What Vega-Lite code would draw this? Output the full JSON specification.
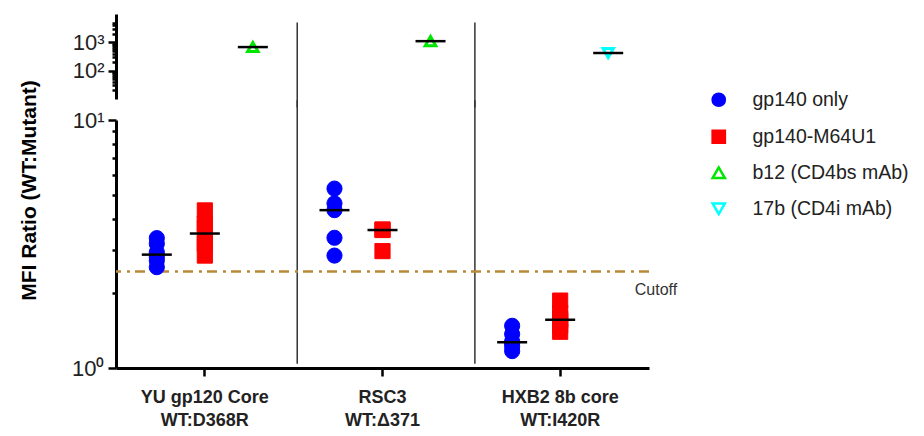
{
  "$schema": "https://vega.github.io/schema/vega-lite/v6.json",
  "background": "white",
  "padding": {"left": 17, "top": 14, "right": 10, "bottom": 5},
  "bounds": "flush",
  "config": {
    "view": {"stroke": null},
    "font": "Liberation Sans",
    "axis": {"grid": false, "domainColor": "black", "tickColor": "black"}
  },
  "datasets": {
    "pts": [
      {"group": "YU gp120 Core\nWT:D368R", "series": "gp140 only", "kind": "gp140 only", "ratio": 3.34},
      {"group": "YU gp120 Core\nWT:D368R", "series": "gp140 only", "kind": "gp140 only", "ratio": 3.17},
      {"group": "YU gp120 Core\nWT:D368R", "series": "gp140 only", "kind": "gp140 only", "ratio": 2.93},
      {"group": "YU gp120 Core\nWT:D368R", "series": "gp140 only", "kind": "gp140 only", "ratio": 2.80},
      {"group": "YU gp120 Core\nWT:D368R", "series": "gp140 only", "kind": "gp140 only", "ratio": 2.71},
      {"group": "YU gp120 Core\nWT:D368R", "series": "gp140 only", "kind": "gp140 only", "ratio": 2.55},
      {"group": "YU gp120 Core\nWT:D368R", "series": "gp140-M64U1", "kind": "gp140-M64U1", "ratio": 4.32},
      {"group": "YU gp120 Core\nWT:D368R", "series": "gp140-M64U1", "kind": "gp140-M64U1", "ratio": 3.82},
      {"group": "YU gp120 Core\nWT:D368R", "series": "gp140-M64U1", "kind": "gp140-M64U1", "ratio": 3.70},
      {"group": "YU gp120 Core\nWT:D368R", "series": "gp140-M64U1", "kind": "gp140-M64U1", "ratio": 3.27},
      {"group": "YU gp120 Core\nWT:D368R", "series": "gp140-M64U1", "kind": "gp140-M64U1", "ratio": 3.17},
      {"group": "YU gp120 Core\nWT:D368R", "series": "gp140-M64U1", "kind": "gp140-M64U1", "ratio": 2.84},
      {"group": "RSC3\nWT:Δ371", "series": "gp140 only", "kind": "gp140 only", "ratio": 5.29},
      {"group": "RSC3\nWT:Δ371", "series": "gp140 only", "kind": "gp140 only", "ratio": 4.61},
      {"group": "RSC3\nWT:Δ371", "series": "gp140 only", "kind": "gp140 only", "ratio": 4.33},
      {"group": "RSC3\nWT:Δ371", "series": "gp140 only", "kind": "gp140 only", "ratio": 3.35},
      {"group": "RSC3\nWT:Δ371", "series": "gp140 only", "kind": "gp140 only", "ratio": 2.84},
      {"group": "RSC3\nWT:Δ371", "series": "gp140-M64U1", "kind": "gp140-M64U1", "ratio": 3.62},
      {"group": "RSC3\nWT:Δ371", "series": "gp140-M64U1", "kind": "gp140-M64U1", "ratio": 3.60},
      {"group": "RSC3\nWT:Δ371", "series": "gp140-M64U1", "kind": "gp140-M64U1", "ratio": 2.96},
      {"group": "HXB2 8b core\nWT:I420R", "series": "gp140 only", "kind": "gp140 only", "ratio": 1.48},
      {"group": "HXB2 8b core\nWT:I420R", "series": "gp140 only", "kind": "gp140 only", "ratio": 1.37},
      {"group": "HXB2 8b core\nWT:I420R", "series": "gp140 only", "kind": "gp140 only", "ratio": 1.28},
      {"group": "HXB2 8b core\nWT:I420R", "series": "gp140 only", "kind": "gp140 only", "ratio": 1.26},
      {"group": "HXB2 8b core\nWT:I420R", "series": "gp140 only", "kind": "gp140 only", "ratio": 1.22},
      {"group": "HXB2 8b core\nWT:I420R", "series": "gp140 only", "kind": "gp140 only", "ratio": 1.17},
      {"group": "HXB2 8b core\nWT:I420R", "series": "gp140-M64U1", "kind": "gp140-M64U1", "ratio": 1.87},
      {"group": "HXB2 8b core\nWT:I420R", "series": "gp140-M64U1", "kind": "gp140-M64U1", "ratio": 1.67},
      {"group": "HXB2 8b core\nWT:I420R", "series": "gp140-M64U1", "kind": "gp140-M64U1", "ratio": 1.58},
      {"group": "HXB2 8b core\nWT:I420R", "series": "gp140-M64U1", "kind": "gp140-M64U1", "ratio": 1.55},
      {"group": "HXB2 8b core\nWT:I420R", "series": "gp140-M64U1", "kind": "gp140-M64U1", "ratio": 1.48},
      {"group": "HXB2 8b core\nWT:I420R", "series": "gp140-M64U1", "kind": "gp140-M64U1", "ratio": 1.40}
    ],
    "mab": [
      {"group": "YU gp120 Core\nWT:D368R", "series": "b12 (CD4bs mAb)", "kind": "mAb", "ratio": 680},
      {"group": "RSC3\nWT:Δ371", "series": "b12 (CD4bs mAb)", "kind": "mAb", "ratio": 1100},
      {"group": "HXB2 8b core\nWT:I420R", "series": "17b (CD4i mAb)", "kind": "mAb", "ratio": 420}
    ],
    "groups": [
      {"group": "YU gp120 Core\nWT:D368R"},
      {"group": "RSC3\nWT:Δ371"}
    ],
    "cut": [{"cutoff": 2.45, "label": "Cutoff", "group": "HXB2 8b core\nWT:I420R"}]
  },
  "vconcat": [
    {
      "width": 533,
      "height": 85,
      "layer": [
        {
          "data": {"name": "groups"},
          "mark": {"type": "rule", "color": "#333333", "strokeWidth": 1.5},
          "encoding": {
            "x": {"field": "group", "type": "nominal", "bandPosition": 1.02, "scale": {"domain": ["YU gp120 Core\nWT:D368R", "RSC3\nWT:Δ371", "HXB2 8b core\nWT:I420R"], "paddingInner": 0, "paddingOuter": 0}, "axis": null},
            "y": {"datum": 5000, "type": "quantitative"},
            "y2": {"datum": 5}
          }
        },
        {
          "data": {"name": "mab"},
          "mark": {"type": "point", "strokeWidth": 3, "size": 110, "opacity": 1},
          "encoding": {
            "x": {"field": "group", "type": "nominal", "axis": null},
            "xOffset": {"field": "kind", "type": "nominal", "scale": {"type": "point", "domain": ["gp140 only", "gp140-M64U1", "mAb"], "padding": 0.85}},
            "y": {"field": "ratio", "type": "quantitative", "scale": {"type": "log", "domain": [20, 5000]},
              "axis": {"values": [20, 30, 40, 50, 60, 70, 80, 90, 100, 200, 300, 400, 500, 600, 700, 800, 900, 1000, 2000, 3000, 4000, 5000],
                "labelExpr": "datum.value == 100 ? '10²' : datum.value == 1000 ? '10³' : ''",
                "labelFontSize": 22, "labelColor": "#222222", "labelPadding": 4,
                "tickSize": {"condition": {"test": "datum.value == 100 || datum.value == 1000", "value": 8}, "value": 4},
                "tickWidth": 2.5, "domainWidth": 3, "title": null, "labelBound": false}},
            "shape": {"field": "series", "type": "nominal", "scale": {"domain": ["gp140 only", "gp140-M64U1", "b12 (CD4bs mAb)", "17b (CD4i mAb)"], "range": ["circle", "square", "triangle-up", "triangle-down"]}},
            "stroke": {"field": "series", "type": "nominal", "scale": {"domain": ["gp140 only", "gp140-M64U1", "b12 (CD4bs mAb)", "17b (CD4i mAb)"], "range": ["#0000ff", "#ff0000", "#00e600", "#00ffff"]}},
            "fill": {"field": "series", "type": "nominal", "scale": {"domain": ["gp140 only", "gp140-M64U1", "b12 (CD4bs mAb)", "17b (CD4i mAb)"], "range": ["#0000ff", "#ff0000", "white", "white"]}}
          }
        },
        {
          "data": {"name": "mab"},
          "mark": {"type": "tick", "color": "black", "size": 30, "thickness": 2.5, "orient": "horizontal", "opacity": 1},
          "encoding": {
            "x": {"field": "group", "type": "nominal", "axis": null},
            "xOffset": {"field": "kind", "type": "nominal"},
            "y": {"field": "ratio", "type": "quantitative"}
          }
        }
      ]
    },
    {
      "width": 533,
      "height": 248,
      "layer": [
        {
          "data": {"name": "groups"},
          "mark": {"type": "rule", "color": "#333333", "strokeWidth": 1.5},
          "encoding": {
            "x": {"field": "group", "type": "nominal", "bandPosition": 1.02, "scale": {"domain": ["YU gp120 Core\nWT:D368R", "RSC3\nWT:Δ371", "HXB2 8b core\nWT:I420R"], "paddingInner": 0, "paddingOuter": 0},
              "axis": {"title": null, "labelAngle": 0, "labelExpr": "split(datum.label, '\\n')", "labelFont": "Liberation Sans", "labelFontWeight": "bold", "labelFontSize": 18, "labelColor": "#222222", "labelLineHeight": 23, "labelPadding": 12, "tickSize": 8, "tickWidth": 2.5, "domainWidth": 3}},
            "y": {"datum": 12, "type": "quantitative"},
            "y2": {"datum": 1.04}
          }
        },
        {
          "data": {"name": "cut"},
          "mark": {"type": "rule", "color": "#b8893a", "strokeWidth": 2.5, "strokeDash": [10, 5, 3, 6]},
          "encoding": {"y": {"field": "cutoff", "type": "quantitative"}}
        },
        {
          "data": {"name": "cut"},
          "mark": {"type": "text", "fontSize": 16, "color": "#333333", "align": "center", "dy": 19, "dx": 7},
          "encoding": {
            "x": {"field": "group", "type": "nominal", "bandPosition": 1},
            "y": {"field": "cutoff", "type": "quantitative"},
            "text": {"field": "label"}
          }
        },
        {
          "data": {"name": "pts"},
          "mark": {"type": "point", "strokeWidth": 1, "opacity": 1, "size": 230},
          "encoding": {
            "x": {"field": "group", "type": "nominal"},
            "xOffset": {"field": "kind", "type": "nominal", "scale": {"type": "point", "domain": ["gp140 only", "gp140-M64U1", "mAb"], "padding": 0.85}},
            "y": {"field": "ratio", "type": "quantitative", "scale": {"type": "log", "domain": [1, 10]},
              "axis": {"values": [1, 2, 3, 4, 5, 6, 7, 8, 9, 10],
                "labelExpr": "datum.value == 1 ? '10⁰' : datum.value == 10 ? '10¹' : ''",
                "labelFontSize": 22, "labelColor": "#222222", "labelPadding": 4,
                "tickSize": {"condition": {"test": "datum.value == 1 || datum.value == 10", "value": 8}, "value": 4},
                "tickWidth": 2.5, "domainWidth": 3, "labelBound": false,
                "title": "MFI Ratio (WT:Mutant)", "titleFontSize": 21, "titleFontWeight": "bold", "titleColor": "black",
                "titleX": -87, "titleY": 70, "titleAngle": -90, "titleBaseline": "middle", "titleAlign": "center"}},
            "shape": {"field": "series", "type": "nominal", "scale": {"domain": ["gp140 only", "gp140-M64U1", "b12 (CD4bs mAb)", "17b (CD4i mAb)"], "range": ["circle", "square", "triangle-up", "triangle-down"]}},
            "stroke": {"field": "series", "type": "nominal", "scale": {"domain": ["gp140 only", "gp140-M64U1", "b12 (CD4bs mAb)", "17b (CD4i mAb)"], "range": ["#0000ff", "#ff0000", "#00e600", "#00ffff"]}},
            "fill": {"field": "series", "type": "nominal", "scale": {"domain": ["gp140 only", "gp140-M64U1", "b12 (CD4bs mAb)", "17b (CD4i mAb)"], "range": ["#0000ff", "#ff0000", "white", "white"]},
              "legend": {"orient": "none", "legendX": 593, "legendY": 76, "title": null, "labelFontSize": 19.5, "labelColor": "#222222", "labelFont": "Liberation Sans", "symbolSize": 150, "symbolStrokeWidth": 2.5, "rowPadding": 14, "labelOffset": 24, "padding": 0,
                "values": ["gp140 only", "gp140-M64U1", "b12 (CD4bs mAb)", "17b (CD4i mAb)"]}}
          }
        },
        {
          "data": {"name": "pts"},
          "transform": [{"aggregate": [{"op": "median", "field": "ratio", "as": "med"}], "groupby": ["group", "kind"]}],
          "mark": {"type": "tick", "color": "black", "size": 30, "thickness": 2.5, "orient": "horizontal", "opacity": 1},
          "encoding": {
            "x": {"field": "group", "type": "nominal"},
            "xOffset": {"field": "kind", "type": "nominal"},
            "y": {"field": "med", "type": "quantitative"}
          }
        }
      ]
    }
  ],
  "spacing": 21,
  "resolve": {"scale": {"y": "independent"}}
}
